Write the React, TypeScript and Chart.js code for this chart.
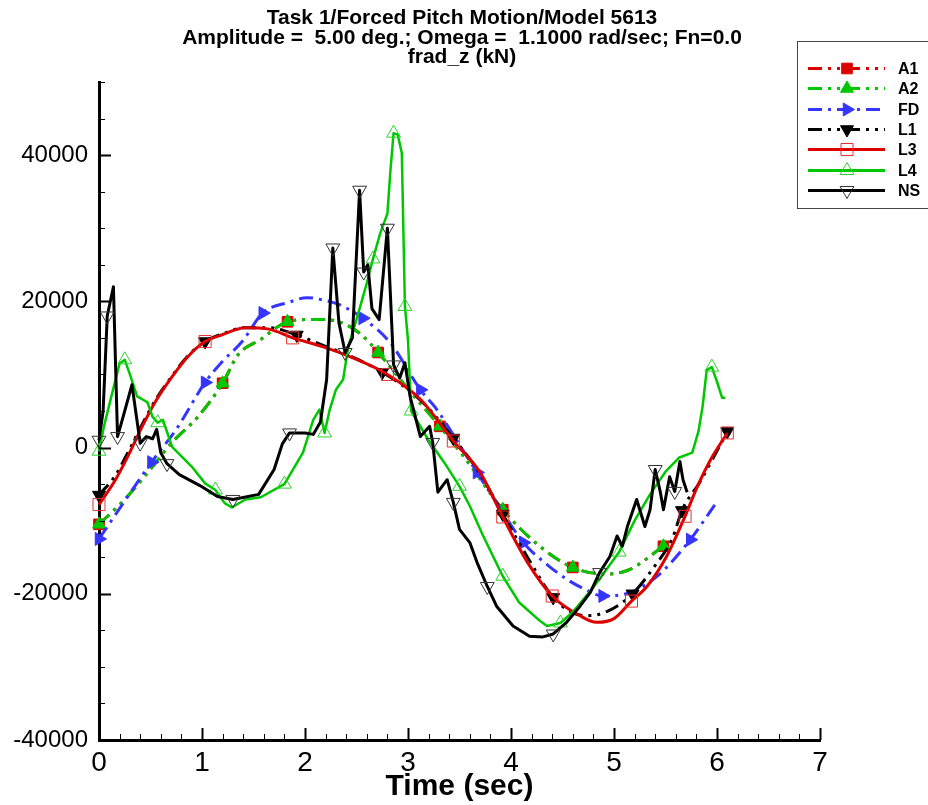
import React, { useEffect, useRef } from 'react';
import { Chart, registerables } from 'chart.js';

Chart.register(...registerables);

// ---------- text ----------
const titleLines = [
  'Task 1/Forced Pitch Motion/Model 5613',
  'Amplitude =  5.00 deg.; Omega =  1.1000 rad/sec; Fn=0.0',
  'frad_z (kN)',
];
const xTitle = 'Time (sec)';
const xTicks = [0, 1, 2, 3, 4, 5, 6, 7];
const yTicks = [-40000, -20000, 0, 20000, 40000];
const seriesNames = ['A1', 'A2', 'FD', 'L1', 'L3', 'L4', 'NS'];

// ---------- data (time in sec, frad_z in kN) ----------
const a1T = [0, 0.25, 0.48, 0.71, 0.96, 1.2, 1.35, 1.56, 1.83, 2.03, 2.2, 2.4, 2.55, 2.71, 3.0, 3.31, 3.62, 3.92, 4.28, 4.6, 4.93, 5.15, 5.48];
const a1V = [-10500, -7100, -3300, 700, 4200, 8800, 12700, 14700, 17200, 17500, 17500, 16800, 15400, 13000, 8000, 2900, -2700, -8500, -13500, -16400, -17300, -16700, -13500];
const a1Marks = [0, 1.2, 1.83, 2.71, 3.31, 3.92, 4.6, 5.48];

const a2T = [0, 0.25, 0.48, 0.71, 0.96, 1.2, 1.35, 1.56, 1.83, 2.03, 2.2, 2.4, 2.55, 2.71, 3.0, 3.31, 3.62, 3.92, 4.28, 4.6, 4.93, 5.15, 5.48];
const a2V = [-10500, -7100, -3300, 700, 4200, 8800, 12700, 14700, 17200, 17500, 17500, 16800, 15400, 13000, 8000, 2900, -2700, -8500, -13500, -16400, -17300, -16700, -13500];
const a2Marks = [0, 1.2, 1.83, 2.71, 3.31, 3.92, 4.6, 5.48];

const fdT = [0, 0.25, 0.51, 0.75, 1.03, 1.2, 1.39, 1.59, 1.85, 2.02, 2.17, 2.34, 2.56, 2.83, 3.12, 3.28, 3.45, 3.67, 3.9, 4.12, 4.35, 4.54, 4.72, 4.89, 5.16, 5.42, 5.74, 5.98];
const fdV = [-12500, -7300, -2000, 2500, 8900, 11800, 14500, 18400, 19900, 20500, 20200, 19500, 17700, 14300, 7900, 5200, 1500, -3400, -8400, -13000, -16000, -18000, -19400, -20300, -19800, -17600, -12600, -7800];
const fdMarks = [0, 0.51, 1.03, 1.59, 2.56, 3.12, 3.67, 4.12, 4.89, 5.74];

const l1T = [0, 0.16, 0.28, 0.42, 0.54, 0.71, 0.86, 1.03, 1.19, 1.42, 1.65, 1.92, 2.17, 2.44, 2.75, 3.12, 3.44, 3.7, 3.92, 4.16, 4.41, 4.6, 4.75, 4.95, 5.18, 5.38, 5.57, 5.66, 5.83, 5.96, 6.1];
const l1V = [-6500, -3800, -700, 3200, 6300, 9800, 12500, 14500, 15500, 16400, 16400, 15400, 14000, 12500, 10300, 6500, 1300, -3600, -9100, -15000, -20500, -22600, -23000, -22300, -20000, -16500, -12300, -8600, -4800, -1500, 2200];
const l1Marks = [0, 1.03, 1.92, 2.75, 3.44, 3.92, 4.41, 5.18, 5.66, 6.1];

const l3T = [0, 0.16, 0.28, 0.42, 0.54, 0.71, 0.86, 1.03, 1.19, 1.42, 1.65, 1.88, 2.17, 2.44, 2.8, 3.12, 3.44, 3.7, 3.92, 4.16, 4.4, 4.67, 4.83, 5.0, 5.17, 5.32, 5.51, 5.69, 5.81, 5.94, 6.1];
const l3V = [-7800, -4400, -1200, 2900, 6100, 9700, 12400, 14500, 15400, 16400, 16200, 15000, 13800, 12400, 10000, 6600, 900, -3400, -9500, -15700, -20300, -23000, -23900, -23400, -21000, -19000, -14900, -9400, -5300, -1600, 2000];
const l3Marks = [0, 1.03, 1.88, 2.8, 3.44, 3.92, 4.4, 5.17, 5.69, 6.1];

const l4T = [0, 0.05, 0.12, 0.2, 0.25, 0.3, 0.37, 0.47, 0.52, 0.57, 0.62, 0.71, 0.9, 1.03, 1.13, 1.22, 1.29, 1.42, 1.57, 1.8, 1.98, 2.08, 2.14, 2.19, 2.24, 2.3, 2.37, 2.42, 2.5, 2.6, 2.66, 2.73, 2.8, 2.83, 2.86, 2.9, 2.94, 2.97, 3.0, 3.03, 3.2, 3.35, 3.5, 3.6, 3.73, 3.92, 4.08, 4.28, 4.35, 4.48, 4.6, 4.8, 5.05, 5.2, 5.35, 5.5, 5.63, 5.76, 5.82, 5.86, 5.9, 5.95, 6.0, 6.05, 6.08];
const l4V = [-500, 3000, 7000, 11500, 12000, 10000, 7000, 6200, 4200, 3400, 3800, 100, -2600, -4900, -5800, -7600, -8200, -7100, -6800, -5000, -700, 3800, 5200, 2000, 5200, 7900, 9300, 13800, 17500, 22500, 25800, 29300, 32000, 38000, 43000, 42800, 40300, 19300, 14700, 5000, 1000, -2000, -5300, -8000, -12100, -17600, -21200, -23700, -24400, -24000, -22500, -19100, -14300, -10000, -6400, -3300, -1400, -700, 2200, 5600, 10600, 11000, 9000, 6800, 6800];
const l4Marks = [0, 0.25, 0.57, 1.13, 1.8, 2.19, 2.66, 2.86, 2.97, 3.03, 3.5, 3.92, 4.48, 5.05, 5.95];

const nsT = [0, 0.04, 0.08, 0.14, 0.18, 0.24, 0.32, 0.4, 0.46, 0.52, 0.56, 0.6, 0.66, 0.78, 0.98, 1.15, 1.3, 1.55, 1.7, 1.78, 1.85, 2.0, 2.08, 2.15, 2.21, 2.27, 2.33, 2.39, 2.46, 2.53, 2.57, 2.61, 2.65, 2.72, 2.8, 2.86, 2.92, 2.97, 3.02, 3.12, 3.21, 3.24, 3.29, 3.38, 3.44, 3.5, 3.6, 3.67, 3.77, 3.86, 4.02, 4.18, 4.31, 4.41, 4.54, 4.67, 4.77, 4.86, 4.96, 5.03, 5.08, 5.13, 5.22, 5.3, 5.35, 5.4, 5.45, 5.48, 5.54, 5.59, 5.64, 5.67, 5.71];
const nsV = [1000, 5000, 18000, 22000, 1500, 4500, 8600, 600, 1500, 1200, 2500, -700, -2200, -3700, -5200, -6700, -7100, -6400, -3000, 500, 2000, 2000, 1800, 3500, 9300, 27300, 17000, 13000, 15000, 35200, 24000, 25000, 19000, 17500, 30000, 11300, 9500, 11600, 7000, 1500, 2900, 700, -6100, -4400, -7500, -11200, -13000, -15700, -19000, -21700, -24400, -25800, -25900, -25500, -23900, -21700, -19800, -17100, -14900, -12100, -13500, -10800, -7100, -10800, -8500, -3000, -6100, -8500, -4000, -6000, -1900, -4400, -6100];
const nsMarks = [0, 0.08, 0.18, 0.4, 0.66, 1.3, 1.85, 2.27, 2.39, 2.53, 2.57, 2.8, 2.86, 3.24, 3.44, 3.77, 4.41, 4.86, 5.4, 5.59];

// ---------- styling ----------
const FONT = '"Liberation Sans", Arial, Helvetica, sans-serif';
const NARROW = '"Liberation Sans Narrow", "Arial Narrow", "Liberation Sans", Arial, sans-serif';
const RED = '#dd0000';
const GREEN = '#00c800';
const BLUE = '#3535ff';
const BLACK = '#000000';
const DASH_DDOT = [14, 6, 3, 6, 3, 6];
const DASH_DOT = [14, 6, 3, 6];

type Spec = {
  t: number[]; v: number[]; marks: number[];
  color: string; width: number; dash: number[]; smooth: boolean;
  pStyle: 'rect' | 'triangle'; rot: number; r: number; filled: boolean; pColor: string;
};

const specs: Spec[] = [
  { t: a1T, v: a1V, marks: a1Marks, color: RED, width: 3, dash: DASH_DDOT, smooth: true, pStyle: 'rect', rot: 0, r: 7.5, filled: true, pColor: RED },
  { t: a2T, v: a2V, marks: a2Marks, color: GREEN, width: 3, dash: DASH_DDOT, smooth: true, pStyle: 'triangle', rot: 0, r: 7.5, filled: true, pColor: GREEN },
  { t: fdT, v: fdV, marks: fdMarks, color: BLUE, width: 3, dash: DASH_DOT, smooth: true, pStyle: 'triangle', rot: 90, r: 7.5, filled: true, pColor: BLUE },
  { t: l1T, v: l1V, marks: l1Marks, color: BLACK, width: 3, dash: DASH_DDOT, smooth: true, pStyle: 'triangle', rot: 180, r: 7.5, filled: true, pColor: BLACK },
  { t: l3T, v: l3V, marks: l3Marks, color: RED, width: 3, dash: [], smooth: true, pStyle: 'rect', rot: 0, r: 8.5, filled: false, pColor: '#e83030' },
  { t: l4T, v: l4V, marks: l4Marks, color: GREEN, width: 2.5, dash: [], smooth: false, pStyle: 'triangle', rot: 0, r: 8, filled: false, pColor: '#30d030' },
  { t: nsT, v: nsV, marks: nsMarks, color: BLACK, width: 3, dash: [], smooth: false, pStyle: 'triangle', rot: 180, r: 8, filled: false, pColor: '#333333' },
];

function drawMarker(ctx: CanvasRenderingContext2D, s: Spec, x: number, y: number) {
  ctx.save();
  ctx.beginPath();
  if (s.pStyle === 'rect') {
    const h = s.r * Math.SQRT1_2;
    ctx.rect(x - h, y - h, 2 * h, 2 * h);
  } else {
    let rad = (s.rot * Math.PI) / 180;
    ctx.moveTo(x + Math.sin(rad) * s.r, y - Math.cos(rad) * s.r);
    rad += (2 * Math.PI) / 3;
    ctx.lineTo(x + Math.sin(rad) * s.r, y - Math.cos(rad) * s.r);
    rad += (2 * Math.PI) / 3;
    ctx.lineTo(x + Math.sin(rad) * s.r, y - Math.cos(rad) * s.r);
    ctx.closePath();
  }
  if (s.filled) {
    ctx.fillStyle = s.pColor;
    ctx.fill();
  }
  ctx.lineWidth = 1;
  ctx.strokeStyle = s.pColor;
  ctx.stroke();
  ctx.restore();
}

const decorPlugin = {
  id: 'decor',
  afterDraw(chart: any) {
    const ctx: CanvasRenderingContext2D = chart.ctx;
    const xs = chart.scales.x;
    const ys = chart.scales.y;
    const area = chart.chartArea;
    ctx.save();
    // inward tick marks
    ctx.strokeStyle = '#000';
    for (let i = 0; i <= 35; i++) {
      const v = i * 0.2;
      const major = i % 5 === 0;
      const px = Math.round(xs.getPixelForValue(v)) + 0.5;
      ctx.lineWidth = major ? 2 : 1;
      ctx.beginPath();
      ctx.moveTo(px, area.bottom);
      ctx.lineTo(px, area.bottom - (major ? 12 : 6));
      ctx.stroke();
    }
    for (let v = -40000; v <= 50000; v += 5000) {
      const major = v % 20000 === 0;
      const py = Math.round(ys.getPixelForValue(v)) + 0.5;
      ctx.lineWidth = major ? 2 : 1;
      ctx.beginPath();
      ctx.moveTo(area.left, py);
      ctx.lineTo(area.left + (major ? 12 : 6), py);
      ctx.stroke();
    }
    // title
    ctx.fillStyle = '#000';
    ctx.font = `bold 21px ${FONT}`;
    ctx.textAlign = 'center';
    ctx.textBaseline = 'alphabetic';
    const baselines = [24, 44, 63];
    titleLines.forEach((line, i) => ctx.fillText(line, 462, baselines[i]));
    // legend
    ctx.lineWidth = 1;
    ctx.strokeStyle = '#444';
    ctx.strokeRect(797.5, 41.5, 140, 167);
    ctx.font = `bold 16px ${FONT}`;
    ctx.textAlign = 'left';
    ctx.textBaseline = 'middle';
    specs.forEach((s, i) => {
      const y = Math.round(68 + i * 20.3) + 0.5;
      ctx.save();
      ctx.strokeStyle = s.color;
      ctx.lineWidth = 3;
      ctx.setLineDash(s.dash);
      ctx.beginPath();
      ctx.moveTo(808, y);
      ctx.lineTo(885, y);
      ctx.stroke();
      ctx.restore();
      drawMarker(ctx, s, 847, y);
      ctx.fillStyle = '#000';
      ctx.fillText(seriesNames[i], 898, y + 1);
    });
    ctx.restore();
  },
};

export default function App() {
  const ref = useRef<HTMLCanvasElement>(null);
  useEffect(() => {
    const datasets = specs.map((s, i) => ({
      label: seriesNames[i],
      data: s.t.map((t, k) => ({ x: t, y: s.v[k] })),
      borderColor: s.color,
      borderWidth: s.width,
      borderDash: s.dash,
      borderCapStyle: 'butt' as const,
      borderJoinStyle: 'round' as const,
      cubicInterpolationMode: s.smooth ? ('monotone' as const) : ('default' as const),
      tension: 0,
      fill: false,
      pointStyle: s.pStyle,
      rotation: s.rot,
      pointRadius: (c: any) => (c.raw && s.marks.includes(c.raw.x) ? s.r : 0),
      pointHoverRadius: 0,
      pointBackgroundColor: s.filled ? s.pColor : 'rgba(0,0,0,0)',
      pointBorderColor: s.pColor,
      pointBorderWidth: 1,
      order: seriesNames.length - i,
      clip: 10,
    }));
    const chart = new Chart(ref.current as HTMLCanvasElement, {
      type: 'line',
      data: { datasets },
      options: {
        responsive: false,
        animation: false,
        devicePixelRatio: 1,
        events: [],
        layout: { padding: { top: 82, right: 108, left: 0, bottom: 0 } },
        plugins: {
          legend: { display: false },
          title: { display: false },
          tooltip: { enabled: false },
        },
        scales: {
          x: {
            type: 'linear',
            min: 0,
            max: 7,
            afterBuildTicks: (s: any) => {
              s.ticks = xTicks.map((v) => ({ value: v }));
            },
            afterFit: (s: any) => {
              s.height = 65;
            },
            grid: { display: false, drawTicks: false },
            border: { display: true, color: '#000', width: 3 },
            ticks: {
              color: '#000',
              padding: 6,
              maxRotation: 0,
              autoSkip: false,
              font: { family: NARROW, size: 28 },
            },
            title: {
              display: true,
              text: xTitle,
              color: '#000',
              font: { family: NARROW, size: 30, weight: 'bold' },
              padding: { top: 0, bottom: 0 },
            },
          },
          y: {
            type: 'linear',
            min: -40000,
            max: 50000,
            afterBuildTicks: (s: any) => {
              s.ticks = yTicks.map((v) => ({ value: v }));
            },
            afterFit: (s: any) => {
              s.width = 99;
            },
            grid: { display: false, drawTicks: false },
            border: { display: true, color: '#000', width: 3 },
            ticks: {
              color: '#000',
              padding: 11,
              font: { family: FONT, size: 24 },
              callback: (v: any) => String(v),
            },
          },
        },
      },
      plugins: [decorPlugin],
    } as any);
    return () => chart.destroy();
  }, []);
  return (
    <div style={{ position: 'fixed', left: 0, top: 0, width: 928, height: 805, background: '#fff' }}>
      <canvas ref={ref} width={928} height={805} style={{ display: 'block' }} />
    </div>
  );
}
